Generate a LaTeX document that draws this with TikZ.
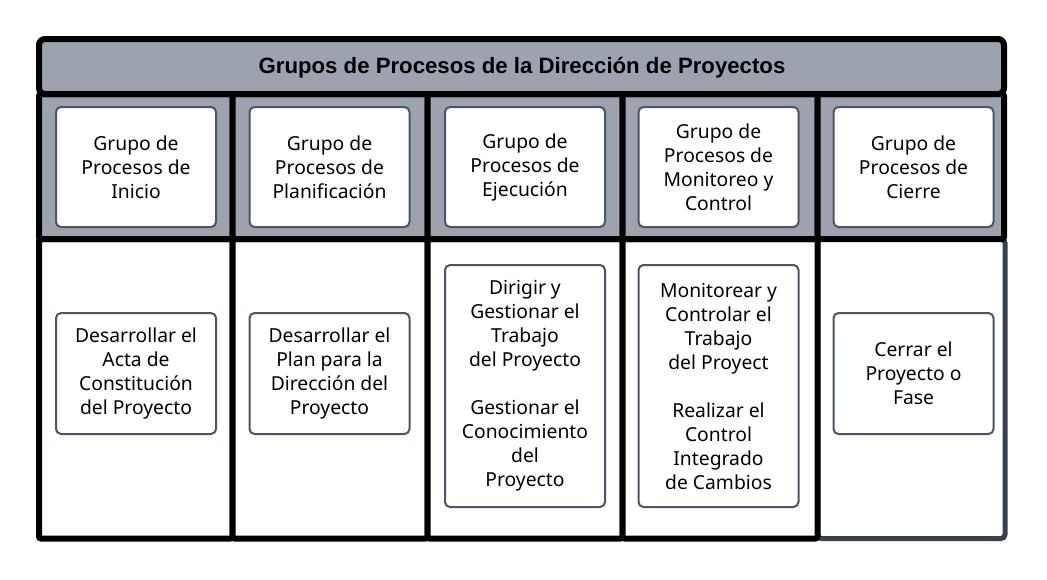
\documentclass[tikz,border=0pt]{standalone}
\usepackage{fontspec}
\setmainfont{Noto Sans}
\newfontfamily\titlefont{Liberation Sans}
\definecolor{hdrgray}{HTML}{9CA3AF}
\definecolor{boxline}{HTML}{4B5563}
\definecolor{lanegray}{HTML}{374151}
\tikzset{
  frame/.style={draw=black, line width=6pt, rounded corners=2pt},
  hdrcell/.style={frame, fill=hdrgray},
  lowcell/.style={frame, fill=white},
  procbox/.style={draw=boxline, line width=2pt, fill=white, rounded corners=5pt,
    minimum width=160pt, align=center, inner sep=0pt,
    font=\fontsize{19.3}{24}\selectfont},
  titletext/.style={font=\titlefont\bfseries\fontsize{22.2}{26}\selectfont, text=black}
}
\begin{document}
\begin{tikzpicture}[x=1pt,y=-1pt]
\useasboundingbox (0,0) rectangle (1047,579);
% lower cells
\draw[draw=lanegray, line width=5pt, rounded corners=4pt, fill=white] (817.5,239) rectangle (1005,538.5);
\foreach \a/\b in {39/232.5, 232.5/427.5, 427.5/622.5, 622.5/817.5}
  \draw[lowcell] (\a,239) rectangle (\b,538.5);
% header cells
\foreach \a/\b in {39/232.5, 232.5/427.5, 427.5/622.5, 622.5/817.5, 817.5/1004}
  \draw[hdrcell] (\a,94) rectangle (\b,239);
% title bar
\draw[hdrcell, rounded corners=6pt] (39,39) rectangle (1004,94);
\node[titletext] (title) at (522,67.5) {Grupos de Procesos de la Dirección de Proyectos};
% header boxes
\node[procbox, minimum height=120pt] (h1) at (136,167) {Grupo de\\Procesos de\\Inicio};
\node[procbox, minimum height=120pt] (h2) at (329.5,167) {Grupo de\\Procesos de\\Planificación};
\node[procbox, minimum height=120pt] (h3) at (525,167) {Grupo de\\Procesos de\\Ejecución};
\node[procbox, minimum height=120pt] (h4) at (718.5,167) {Grupo de\\Procesos de\\Monitoreo y\\Control};
\node[procbox, minimum height=120pt] (h5) at (913.5,167) {Grupo de\\Procesos de\\Cierre};
% lower boxes
\node[procbox, minimum height=121pt] (p1) at (136,373.5) {Desarrollar el\\Acta de\\Constitución\\del Proyecto};
\node[procbox, minimum height=121pt] (p2) at (329.5,373.5) {Desarrollar el\\Plan para la\\Dirección del\\Proyecto};
\node[procbox, minimum height=242pt] (p3) at (525,386) {Dirigir y\\Gestionar el\\Trabajo\\del Proyecto\\[24pt]Gestionar el\\Conocimiento\\del\\Proyecto};
\node[procbox, minimum height=242pt] (p4) at (718.5,386) {Monitorear y\\Controlar el\\Trabajo\\del Proyect\\[24pt]Realizar el\\Control\\Integrado\\de Cambios};
\node[procbox, minimum height=121pt] (p5) at (913.5,373.5) {Cerrar el\\Proyecto o\\Fase};
\end{tikzpicture}
\end{document}
